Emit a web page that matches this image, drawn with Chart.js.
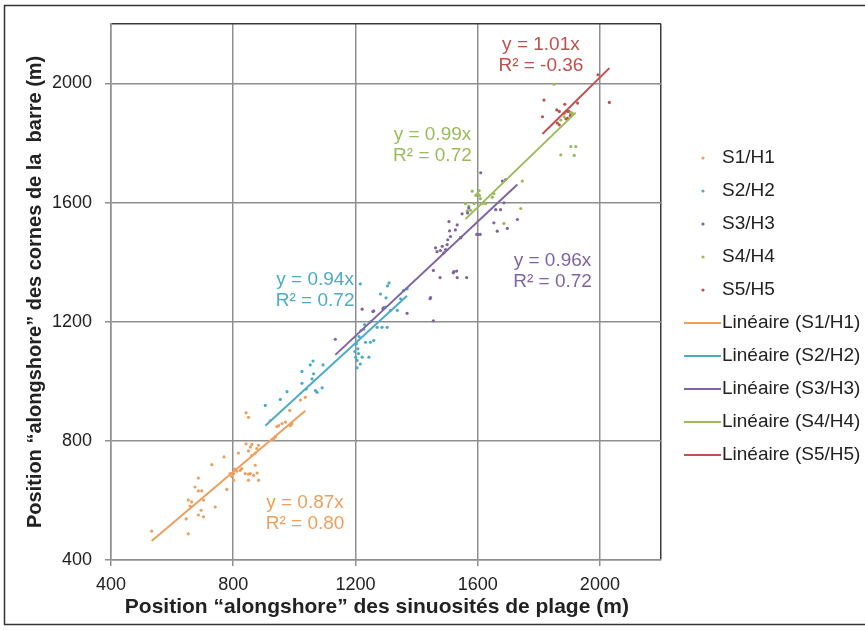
<!DOCTYPE html>
<html>
<head>
<meta charset="utf-8">
<script src="https://cdn.jsdelivr.net/npm/chart.js@4.4.0/dist/chart.umd.min.js"></script>
<style>
  html, body { margin: 0; padding: 0; background: #fff; }
  #wrap { width: 865px; height: 630px; }
</style>
</head>
<body>
<div id="wrap"><canvas id="myChart" width="865" height="630"></canvas></div>
<script>
// noms, couleurs et pentes des séries
const seriesNames = ["S1/H1", "S2/H2", "S3/H3", "S4/H4", "S5/H5"];
const seriesColors = ["#ef9f5c", "#4bacc6", "#8064a2", "#9bbb59", "#c0504d"];
const slopes = [0.87, 0.94, 0.96, 0.99, 1.01];
const r2Values = ["0.80", "0.72", "0.72", "0.72", "-0.36"];
const axisTicks = [400, 800, 1200, 1600, 2000, 2200];

// S1/H1
const s1x = [533, 653, 646, 686, 695, 703, 653, 664, 659, 703, 675, 686, 697, 686, 741, 730, 770, 779, 790, 801, 795, 801, 805, 812, 817, 828, 823, 839, 850, 856, 850, 883, 872, 878, 867, 850, 861, 872, 883, 861, 877, 842, 856, 943, 842, 850, 921, 960, 971, 985, 1020, 1036, 949, 987, 992, 938, 932];
const s1y = [497, 488, 538, 551, 567, 545, 601, 595, 581, 601, 645, 632, 632, 675, 578, 720, 746, 637, 690, 690, 681, 668, 705, 698, 759, 707, 701, 690, 688, 690, 668, 668, 718, 692, 684, 766, 751, 759, 785, 788, 774, 790, 779, 848, 894, 879, 868, 858, 863, 902, 937, 946, 851, 851, 857, 813, 805];
// S2/H2
const s2x = [905, 954, 976, 1025, 1025, 1052, 1061, 1039, 1069, 1074, 1091, 1094, 1058, 1063, 1203, 1208, 1210, 1201, 1205, 1216, 1205, 1222, 1233, 1244, 1249, 1260, 1198, 1212, 1218, 1227, 1282, 1298, 1315, 1337, 1358, 1369, 1348, 1271, 1287, 1304, 1300, 1305, 1310, 1216, 1250, 1230];
const s2y = [919, 939, 965, 993, 1033, 1055, 1068, 974, 969, 963, 978, 1055, 1008, 1025, 1126, 1109, 1093, 1081, 1070, 1058, 1045, 1081, 1131, 1081, 1131, 1137, 1100, 1150, 1170, 1175, 1293, 1249, 1238, 1238, 1305, 1310, 1277, 1181, 1181, 1181, 1280, 1320, 1330, 1327, 1200, 1190];
// S3/H3
const s3x = [1134, 1222, 1260, 1293, 1369, 1257, 1290, 1444, 1446, 1455, 1455, 1477, 1522, 1531, 1533, 1520, 1564, 1462, 1467, 1478, 1484, 1489, 1495, 1500, 1502, 1511, 1508, 1527, 1533, 1506, 1545, 1549, 1567, 1600, 1610, 1681, 1692, 1659, 1675, 1653, 1664, 1697, 1730, 1686, 1597, 1608, 1544, 1571];
const s3y = [1141, 1242, 1236, 1247, 1228, 1234, 1244, 1277, 1281, 1203, 1372, 1348, 1368, 1370, 1348, 1364, 1348, 1448, 1435, 1439, 1453, 1431, 1442, 1459, 1475, 1486, 1505, 1508, 1525, 1536, 1482, 1562, 1565, 1493, 1700, 1672, 1677, 1576, 1576, 1532, 1504, 1513, 1543, 1599, 1493, 1493, 1482, 1582];
// S4/H4
const s4x = [1600, 1594, 1606, 1609, 1560, 1566, 1577, 1588, 1615, 1626, 1648, 1653, 1746, 1741, 1686, 1582, 1605, 1571, 1850, 1872, 1883, 1905, 1910, 1905, 1921, 1872, 1916];
const s4y = [1630, 1624, 1624, 1613, 1596, 1572, 1574, 1596, 1596, 1596, 1618, 1630, 1672, 1580, 1530, 1638, 1640, 1588, 1997, 1877, 1888, 1902, 1900, 1788, 1788, 1760, 1758];
// S5/H5
const s5x = [1817, 1812, 1859, 1867, 1885, 1883, 1894, 1899, 1905, 1903, 1861, 1867, 1889, 1894, 1927, 1994, 2031];
const s5y = [1944, 1888, 1911, 1906, 1930, 1900, 1906, 1906, 1900, 1892, 1867, 1861, 1881, 1883, 1934, 2029, 1936];

const allX = [s1x, s2x, s3x, s4x, s5x];
const allY = [s1y, s2y, s3y, s4y, s5y];

// position des équations (coordonnées des données)
const labelAnchors = [[1035, 591], [1068, 1340], [1845, 1403], [1452, 1828], [1807, 2129]];

const FONT = "'Liberation Sans', Arial, sans-serif";
const GRID = "#8f8f8f";
const xTitle = "Position “alongshore” des sinuosités de plage (m)";

const datasets = [];
allX.forEach(function (xs, i) {
    datasets.push({
        type: "scatter",
        label: seriesNames[i],
        data: xs.map(function (x, j) { return { x: x, y: allY[i][j] }; }),
        backgroundColor: seriesColors[i],
        borderWidth: 0,
        pointRadius: 1.6,
        order: 1
    });
});
allX.forEach(function (xs, i) {
    const lo = Math.min.apply(null, xs);
    const hi = Math.max.apply(null, xs);
    datasets.push({
        type: "line",
        label: "Linéaire (" + seriesNames[i] + ")",
        data: [{ x: lo, y: lo * slopes[i] }, { x: hi, y: hi * slopes[i] }],
        borderColor: seriesColors[i],
        borderWidth: 2,
        pointRadius: 0,
        fill: false,
        order: 0
    });
});

// fond blanc + cadre (gauche, haut, bas)
const framePlugin = {
    id: "frame",
    beforeDraw(chart) {
        const ctx = chart.ctx;
        ctx.save();
        ctx.fillStyle = "#fff";
        ctx.fillRect(0, 0, chart.width, chart.height);
        ctx.strokeStyle = "#333";
        ctx.lineWidth = 1.5;
        ctx.beginPath();
        ctx.moveTo(chart.width, 5.5);
        ctx.lineTo(4.5, 5.5);
        ctx.lineTo(4.5, chart.height - 5.5);
        ctx.lineTo(chart.width, chart.height - 5.5);
        ctx.stroke();
        ctx.restore();
    }
};

// équations des tendances + titre de l'axe x
const equationPlugin = {
    id: "equations",
    afterDatasetsDraw(chart) {
        const ctx = chart.ctx;
        const xs = chart.scales.x, ys = chart.scales.y;
        ctx.save();
        ctx.font = "19px " + FONT;
        ctx.textAlign = "center";
        ctx.textBaseline = "middle";
        labelAnchors.forEach(function (a, i) {
            const px = xs.getPixelForValue(a[0]);
            const py = ys.getPixelForValue(a[1]);
            ctx.fillStyle = seriesColors[i];
            ctx.fillText("y = " + slopes[i].toFixed(2) + "x", px, py);
            ctx.fillText("R² = " + r2Values[i], px, py + 21);
        });
        ctx.font = "bold 21px " + FONT;
        ctx.fillStyle = "#222";
        ctx.fillText(xTitle, xs.getPixelForValue(1270), 607);
        ctx.restore();
    }
};

// légende à droite
const legendPlugin = {
    id: "sideLegend",
    afterDraw(chart) {
        const ctx = chart.ctx;
        ctx.save();
        ctx.font = "19px " + FONT;
        ctx.textBaseline = "middle";
        ctx.textAlign = "left";
        seriesNames.forEach(function (name, i) {
            const y = 158 + i * 33;
            ctx.fillStyle = seriesColors[i];
            ctx.beginPath();
            ctx.arc(703, y, 1.6, 0, Math.PI * 2);
            ctx.fill();
            ctx.fillStyle = "#222";
            ctx.fillText(name, 722, y);
        });
        seriesNames.forEach(function (name, i) {
            const y = 158 + (i + 5) * 33;
            ctx.strokeStyle = seriesColors[i];
            ctx.lineWidth = 2;
            ctx.beginPath();
            ctx.moveTo(684, y);
            ctx.lineTo(721, y);
            ctx.stroke();
            ctx.fillStyle = "#222";
            ctx.fillText("Linéaire (" + name + ")", 722, y);
        });
        ctx.restore();
    }
};

function gridColor(c) {
    return c.tick && c.tick.value === 2200 ? "#3a3a3a" : GRID;
}
function tickColor(c) {
    return c.tick && c.tick.value === 2200 ? "rgba(0,0,0,0)" : GRID;
}
function setTicks(scale) {
    scale.ticks = axisTicks.map(function (v) { return { value: v }; });
}
function tickLabel(v) {
    return v === 2200 ? "" : String(v);
}

new Chart(document.getElementById("myChart"), {
    type: "scatter",
    data: { datasets: datasets },
    options: {
        responsive: false,
        animation: false,
        devicePixelRatio: 1,
        layout: { padding: { left: 0, right: 204, top: 22, bottom: 0 } },
        plugins: {
            legend: { display: false },
            tooltip: { enabled: false }
        },
        scales: {
            x: {
                type: "linear",
                min: 400,
                max: 2200,
                afterBuildTicks: setTicks,
                afterFit: function (s) { s.height = 70; },
                grid: { color: gridColor, tickColor: tickColor, lineWidth: 1.5, tickLength: 6 },
                border: { color: GRID, width: 1.5 },
                ticks: { callback: tickLabel, padding: 8, maxRotation: 0, color: "#222", font: { family: FONT, size: 18 } },
                title: { display: false }
            },
            y: {
                type: "linear",
                min: 400,
                max: 2200,
                afterBuildTicks: setTicks,
                afterFit: function (s) { s.width = 111; },
                grid: { color: gridColor, tickColor: tickColor, lineWidth: 1.5, tickLength: 6 },
                border: { color: GRID, width: 1.5 },
                ticks: { callback: tickLabel, padding: 13, color: "#222", font: { family: FONT, size: 18 } },
                title: {
                    display: true,
                    text: "Position “alongshore” des cornes de la  barre (m)",
                    color: "#222",
                    font: { family: FONT, size: 20, weight: "bold" },
                    padding: { top: 23, bottom: 0 }
                }
            }
        }
    },
    plugins: [framePlugin, equationPlugin, legendPlugin]
});
</script>
</body>
</html>
